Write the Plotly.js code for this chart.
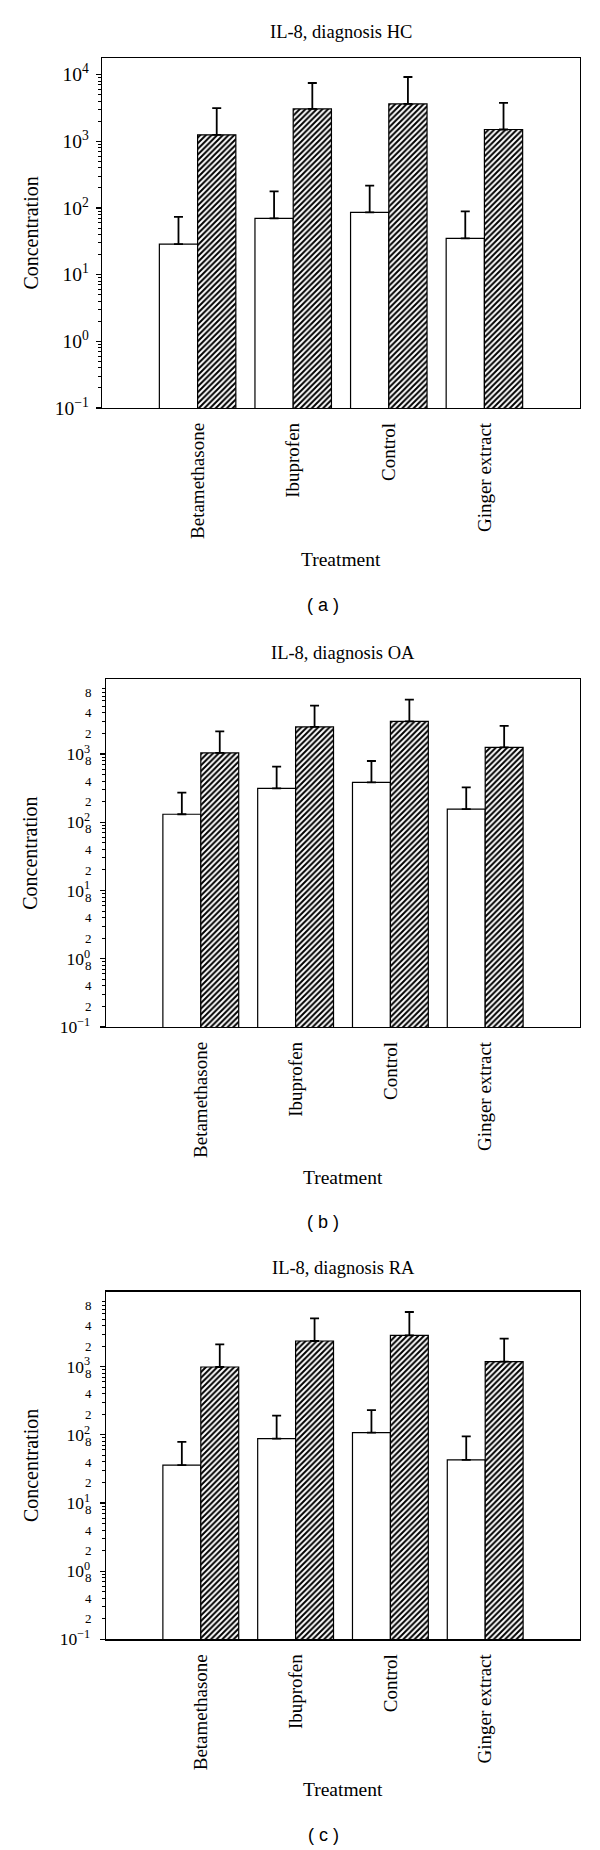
<!DOCTYPE html>
<html>
<head>
<meta charset="utf-8">
<script src="https://cdn.plot.ly/plotly-3.0.1.min.js"></script>
<style>html,body{margin:0;padding:0;background:#fff;}#chart{width:600px;height:1850px;}</style>
</head>
<body>
<div id="chart"></div>
<script>
// ---------- data ----------
const categories = ['Betamethasone', 'Ibuprofen', 'Control', 'Ginger extract'];

const hcWhite = [28.7, 70, 86, 35];
const hcWhiteErr = [44.8, 108, 130, 54];
const hcHatched = [1253, 3068, 3640, 1504];
const hcHatchedErr = [1887, 4432, 5590, 2266];

const oaWhite = [131, 314, 384, 156];
const oaWhiteErr = [140, 338, 405, 169];
const oaHatched = [1035, 2488, 3012, 1253];
const oaHatchedErr = [1113, 2618, 3238, 1319];

const raWhite = [36, 88, 108, 43];
const raWhiteErr = [43, 103, 123, 52];
const raHatched = [989, 2380, 2884, 1183];
const raHatchedErr = [1139, 2737, 3455, 1393];

const panelTitles = ['IL-8, diagnosis HC', 'IL-8, diagnosis OA', 'IL-8, diagnosis RA'];
const panelLetters = ['( a )', '( b )', '( c )'];
const xTitle = 'Treatment';
const yTitle = 'Concentration';

const majorTickValsA = [0.1, 1, 10, 100, 1000, 10000];
const majorTickTextA = ['10<sup>\u22121</sup>', '10<sup>0</sup>', '10<sup>1</sup>', '10<sup>2</sup>', '10<sup>3</sup>', '10<sup>4</sup>'];
const majorTickValsBC = [0.1, 1, 10, 100, 1000];
const majorTickTextBC = ['10<sup>\u22121</sup>', '10<sup>0</sup>', '10<sup>1</sup>', '10<sup>2</sup>', '10<sup>3</sup>'];
const minorLabelVals = [0.2, 0.4, 0.8, 2, 4, 8, 20, 40, 80, 200, 400, 800, 2000, 4000, 8000];
const minorLabelText = ['2', '4', '8', '2', '4', '8', '2', '4', '8', '2', '4', '8', '2', '4', '8'];

// ---------- helpers ----------
const minorTicks = [];
[0.1, 1, 10, 100, 1000].forEach(d => { for (let k = 2; k <= 9; k++) minorTicks.push(+(d * k).toPrecision(3)); });

const H = 1850, W = 600;
const py = v => 1 - v / H;
const px = v => v / W;

const SERIF = 'Liberation Serif, Times New Roman, serif';

function barTrace(vals, errs, n, hatched) {
  const marker = { color: '#ffffff', line: { color: '#000', width: 1.2 } };
  if (hatched) marker.pattern = { shape: '/', fgcolor: '#000', bgcolor: '#fff', size: 4, solidity: 0.5 };
  return {
    type: 'bar', x: categories, y: vals, xaxis: 'x' + n, yaxis: 'y' + n,
    marker: marker,
    error_y: { type: 'data', symmetric: false, array: errs, arrayminus: vals.map(() => 0), color: '#000', thickness: 1.8, width: 4.5 },
    showlegend: false, hoverinfo: 'skip'
  };
}

const traces = [
  barTrace(hcWhite, hcWhiteErr, '', false), barTrace(hcHatched, hcHatchedErr, '', true),
  barTrace(oaWhite, oaWhiteErr, 2, false), barTrace(oaHatched, oaHatchedErr, 2, true),
  barTrace(raWhite, raWhiteErr, 3, false), barTrace(raHatched, raHatchedErr, 3, true),
  { type: 'scatter', mode: 'markers', x: [], y: [], xaxis: 'x2', yaxis: 'y4', showlegend: false, hoverinfo: 'skip' },
  { type: 'scatter', mode: 'markers', x: [], y: [], xaxis: 'x3', yaxis: 'y5', showlegend: false, hoverinfo: 'skip' }
];

// panel geometry (pixels)
const panels = [
  { l: 102, r: 580, t: 58, b: 408, yr: [-1, 4.25], titleY: 32, treatY: 559, letterY: 605 },
  { l: 106, r: 580, t: 679.3, b: 1027, yr: [-1, 4.094], titleY: 653, treatY: 1177, letterY: 1222 },
  { l: 106, r: 580, t: 1291.7, b: 1639.3, yr: [-1, 4.1], titleY: 1268, treatY: 1789, letterY: 1835 }
];

function xAxis(p, n) {
  return {
    domain: [px(p.l), px(p.r)], anchor: 'y' + n, type: 'category', range: [-1, 4],
    showline: true, mirror: true, linecolor: '#000', linewidth: 1.3,
    ticks: '', showgrid: false, zeroline: false, tickangle: -90,
    tickfont: { family: SERIF, size: 19, color: '#000' }, ticklabelstandoff: 6
  };
}
function yAxis(p, n, a) {
  return {
    domain: [py(p.b), py(p.t)], anchor: 'x' + n, type: 'log', range: p.yr, autorange: false,
    showline: true, mirror: true, linecolor: '#000', linewidth: 1.3,
    ticks: 'outside', ticklen: 5, tickwidth: 1.2, tickcolor: '#000',
    tickmode: 'array',
    tickvals: a ? majorTickValsA : majorTickValsBC,
    ticktext: a ? majorTickTextA : majorTickTextBC,
    tickfont: { family: SERIF, size: a ? 19.5 : 17.5, color: '#000' },
    ticklabelstandoff: a ? 3 : 6,
    minor: { tickmode: 'array', tickvals: minorTicks, ticks: 'outside', ticklen: 3, tickwidth: 1, tickcolor: '#000' },
    showgrid: false, zeroline: false
  };
}
function minorLabelAxis(p, n, over) {
  return {
    overlaying: over, anchor: 'x' + n, side: 'left', type: 'log', range: p.yr, autorange: false,
    showline: false, showgrid: false, zeroline: false,
    ticks: 'outside', ticklen: 3, tickwidth: 1, tickcolor: '#000',
    tickmode: 'array', tickvals: minorLabelVals, ticktext: minorLabelText,
    tickfont: { family: SERIF, size: 13, color: '#000' }, ticklabelstandoff: 8
  };
}

const annotations = [];
panels.forEach((p, i) => {
  const cx = px((p.l + p.r) / 2);
  annotations.push({ xref: 'paper', yref: 'paper', x: cx, y: py(p.titleY), text: panelTitles[i], showarrow: false,
    xanchor: 'center', yanchor: 'middle', font: { family: SERIF, size: 18.5, color: '#000' } });
  annotations.push({ xref: 'paper', yref: 'paper', x: px(30.6), y: py((p.t + p.b) / 2), text: yTitle, showarrow: false,
    textangle: -90, xanchor: 'center', yanchor: 'middle', font: { family: SERIF, size: 20, color: '#000' } });
  annotations.push({ xref: 'paper', yref: 'paper', x: cx, y: py(p.treatY), text: xTitle, showarrow: false,
    xanchor: 'center', yanchor: 'middle', font: { family: SERIF, size: 19.5, color: '#000' } });
  annotations.push({ xref: 'paper', yref: 'paper', x: px(323), y: py(p.letterY), text: panelLetters[i], showarrow: false,
    xanchor: 'center', yanchor: 'middle', font: { family: 'Liberation Sans, Arial, sans-serif', size: 18, color: '#000' } });
});

const layout = {
  width: W, height: H, margin: { l: 0, r: 0, t: 0, b: 0 },
  paper_bgcolor: '#fff', plot_bgcolor: '#fff',
  barmode: 'group', bargap: 0.2, bargroupgap: 0,
  showlegend: false,
  xaxis: xAxis(panels[0], ''), yaxis: yAxis(panels[0], '', true),
  xaxis2: xAxis(panels[1], 2), yaxis2: yAxis(panels[1], 2, false),
  xaxis3: xAxis(panels[2], 3), yaxis3: yAxis(panels[2], 3, false),
  yaxis4: minorLabelAxis(panels[1], 2, 'y2'),
  yaxis5: minorLabelAxis(panels[2], 3, 'y3'),
  annotations: annotations
};

Plotly.newPlot('chart', traces, layout, { staticPlot: true, displayModeBar: false });
</script>
</body>
</html>
